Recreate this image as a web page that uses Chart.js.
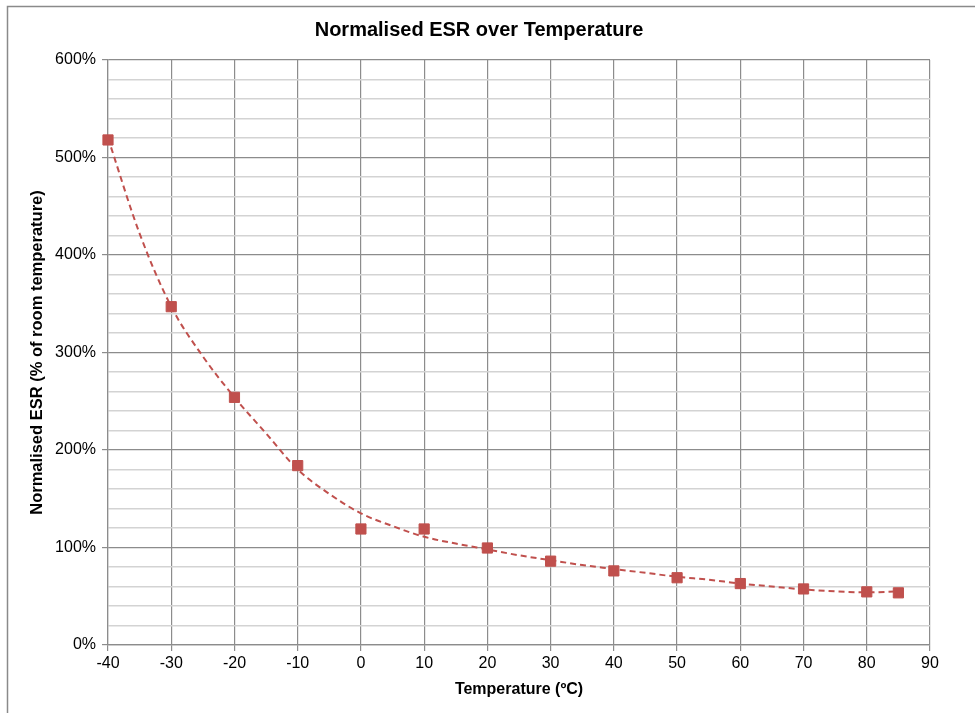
<!DOCTYPE html>
<html>
<head>
<meta charset="utf-8">
<script src="https://cdn.jsdelivr.net/npm/chart.js@4"></script>
<style>
  html, body { margin: 0; padding: 0; background: #fff; }
  #wrap { width: 975px; height: 713px; }
</style>
</head>
<body>
<div id="wrap"><canvas id="esrChart" width="975" height="713"></canvas></div>
<script>
// measured points (temperature in ºC, ESR in % of room temperature)
const temps = [-40, -30, -20, -10, 0, 10, 20, 30, 40, 50, 60, 70, 80, 85];
const esr = [518, 347, 254, 184, 119, 119, 99.5, 86, 76, 69, 63, 57.5, 54.5, 53.5];

// trendline
const trendTemps = [-40, -35, -30, -25, -20, -15, -10, -5, 0, 5, 10, 15, 20, 25, 30, 35, 40, 45, 50, 55, 60, 65, 70, 75, 80, 85];
const trendEsr = [520, 422, 347, 296, 254, 217, 180, 155, 135, 122, 111, 104, 98, 92, 87, 82, 78, 74, 70, 67, 63, 60, 57, 55, 54, 55];

const xTicks = [-40, -30, -20, -10, 0, 10, 20, 30, 40, 50, 60, 70, 80, 90];
const yMajor = [0, 100, 200, 300, 400, 500, 600];

const RED = '#C0504D';
const FONT = "'Liberation Sans', Arial, sans-serif";

// frame lines around the chart (top and left edge)
const framePlugin = {
  id: 'frame',
  beforeDraw(chart) {
    const c = chart.ctx;
    c.save();
    c.strokeStyle = '#8a8a8a';
    c.lineWidth = 1.5;
    c.beginPath();
    c.moveTo(975, 6.5);
    c.lineTo(7.5, 6.5);
    c.lineTo(7.5, 713);
    c.stroke();
    c.restore();
  }
};

const ctx = document.getElementById('esrChart').getContext('2d');
new Chart(ctx, {
  type: 'scatter',
  data: {
    datasets: [
      {
        label: 'Trend',
        data: trendTemps.map((t, i) => ({ x: t, y: trendEsr[i] })),
        showLine: true,
        borderColor: RED,
        borderWidth: 2,
        borderDash: [6, 4],
        pointRadius: 0,
        cubicInterpolationMode: 'monotone',
        clip: false,
        order: 2
      },
      {
        label: 'ESR',
        data: temps.map((t, i) => ({ x: t, y: esr[i] })),
        backgroundColor: RED,
        borderColor: RED,
        borderWidth: 1,
        pointStyle: 'rect',
        pointRadius: 7.2,
        clip: false,
        order: 1
      }
    ]
  },
  options: {
    responsive: false,
    animation: false,
    layout: { padding: { left: 28, right: 45, top: 0, bottom: 14 } },
    plugins: {
      legend: { display: false },
      tooltip: { enabled: false },
      title: {
        display: true,
        text: 'Normalised ESR over Temperature',
        color: '#000',
        font: { family: FONT, size: 20, weight: 'bold' },
        padding: { top: 18, bottom: 18 }
      }
    },
    scales: {
      x: {
        type: 'linear',
        min: -40,
        max: 90,
        afterBuildTicks(scale) {
          scale.ticks = xTicks.map(v => ({ value: v }));
        },
        afterFit(scale) { scale.height = 54; },
        ticks: {
          color: '#000',
          font: { family: FONT, size: 16 },
          padding: 3,
          maxRotation: 0
        },
        grid: {
          color: '#8c8c8c',
          lineWidth: 1.2,
          tickLength: 6,
          tickColor: '#8c8c8c'
        },
        border: { color: '#8c8c8c', width: 1.2 },
        title: {
          display: true,
          text: 'Temperature (ºC)',
          color: '#000',
          font: { family: FONT, size: 16, weight: 'bold' },
          padding: { top: 4, bottom: 0 }
        }
      },
      y: {
        min: 0,
        max: 600,
        ticks: {
          stepSize: 20,
          autoSkip: false,
          color: '#000',
          font: { family: FONT, size: 16 },
          padding: 6,
          callback: v => (yMajor.includes(v) ? v + '%' : '')
        },
        afterFit(scale) { scale.width = 80; },
        grid: {
          color: c => (yMajor.includes(c.tick.value) ? '#8c8c8c' : '#d3d3d3'),
          lineWidth: c => (yMajor.includes(c.tick.value) ? 1.2 : 1.5),
          tickLength: 6,
          tickColor: c => (yMajor.includes(c.tick.value) ? '#8c8c8c' : 'rgba(0,0,0,0)')
        },
        border: { color: '#8c8c8c', width: 1.2 },
        title: {
          display: true,
          text: 'Normalised ESR (% of room temperature)',
          color: '#000',
          font: { family: FONT, size: 16.5, weight: 'bold' },
          padding: { top: 0, bottom: 4 }
        }
      }
    }
  },
  plugins: [framePlugin]
});
</script>
</body>
</html>
